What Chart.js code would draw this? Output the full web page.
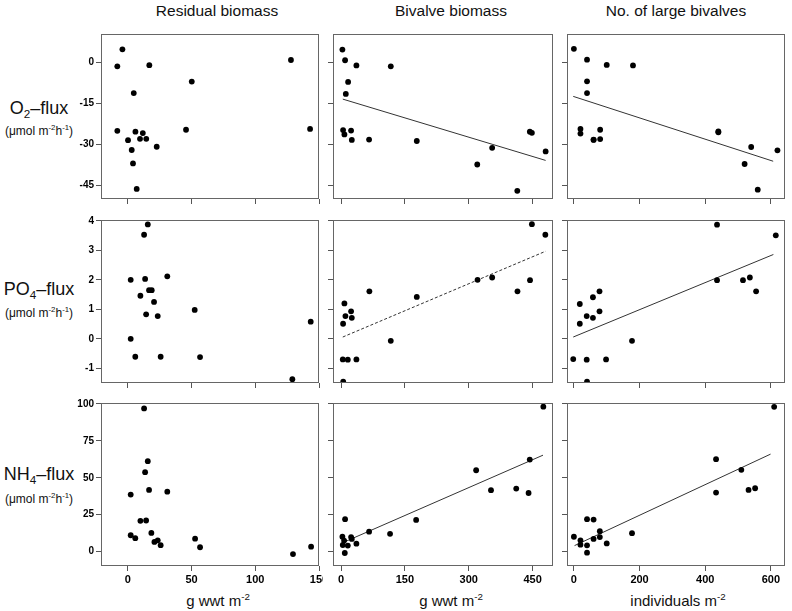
<!DOCTYPE html>
<html>
<head>
<meta charset="utf-8">
<script src="https://cdn.jsdelivr.net/npm/chart.js@4"></script>
<style>
    body { margin: 0; background: #fff; }
    #wrap { position: relative; width: 792px; height: 611px; font-family: "Liberation Sans", Arial, sans-serif; color: #111; }
    canvas { position: absolute; }
    .txt { position: absolute; white-space: nowrap; transform: translate(-50%, -50%); }
    .col { font-size: 15.5px; top: 11px; }
    .xt { font-size: 15px; top: 600px; }
    .row { font-size: 18px; }
    .unit { font-size: 12px; }
    sub, sup { font-size: 65%; }
</style>
</head>
<body>
<div id="wrap">
    <div class="txt col" style="left:217px">Residual biomass</div>
    <div class="txt col" style="left:451px">Bivalve biomass</div>
    <div class="txt col" style="left:676px">No. of large bivalves</div>

    <div class="txt row" style="left:39px; top:109px">O<sub>2</sub>–flux</div>
    <div class="txt unit" style="left:39px; top:130px">(μmol m<sup>-2</sup>h<sup>-1</sup>)</div>
    <div class="txt row" style="left:39px; top:290px">PO<sub>4</sub>–flux</div>
    <div class="txt unit" style="left:39px; top:312px">(μmol m<sup>-2</sup>h<sup>-1</sup>)</div>
    <div class="txt row" style="left:39px; top:475px">NH<sub>4</sub>–flux</div>
    <div class="txt unit" style="left:39px; top:498px">(μmol m<sup>-2</sup>h<sup>-1</sup>)</div>

    <div class="txt xt" style="left:218px">g wwt m<sup>-2</sup></div>
    <div class="txt xt" style="left:451px">g wwt m<sup>-2</sup></div>
    <div class="txt xt" style="left:678px">individuals m<sup>-2</sup></div>
</div>
<script>
// tick labels
const o2Ticks = [0, -15, -30, -45];
const po4Ticks = [-1, 0, 1, 2, 3, 4];
const nh4Ticks = [0, 25, 50, 75, 100];
const resTicks = [0, 50, 100, 150];
const bivTicks = [0, 150, 300, 450];
const numTicks = [0, 200, 400, 600];

// O2 flux
const o2ResX = [-4.2, -8.2, 16.9, 50.2, 4.7, -8.2, 6.0, 11.8, 45.7, 0.2, 9.6, 14.5, 22.7, 3.1, 4.1, 7.0, 128, 143];
const o2ResY = [4.7, -1.5, -1.1, -7.1, -11.3, -25.1, -25.4, -25.9, -24.7, -28.5, -28.0, -28.0, -30.9, -32.1, -37.0, -46.3, 0.8, -24.4];
const o2BivX = [3.1, 9.4, 36, 116.8, 16.5, 11.1, 4.7, 7.8, 23.5, 25.2, 65.8, 177.9, 443.6, 448.4, 355, 480.7, 320, 414.1];
const o2BivY = [4.6, 0.7, -1.2, -1.5, -7.2, -11.6, -24.8, -26.4, -25.0, -28.4, -28.3, -28.8, -25.4, -25.8, -31.3, -32.6, -37.4, -47.0];
const o2NumX = [0, 40, 100, 180, 40, 40, 20, 20, 80, 60, 60, 80, 440, 440, 540, 620, 520, 560];
const o2NumY = [4.9, 0.9, -1.0, -1.2, -7.0, -11.3, -24.4, -26.1, -24.7, -28.3, -28.4, -28.1, -25.3, -25.6, -31.0, -32.2, -37.2, -46.6];
const o2BivLine = [[4, -13.5], [480.7, -35.9]];
const o2NumLine = [[-2, -12.5], [607, -36.2]];

// PO4 flux
const po4ResX = [15.7, 12.8, 2.3, 13.6, 31.0, 16.7, 18.8, 9.9, 20.6, 52.5, 14.4, 23.5, 2.3, 5.9, 25.8, 56.7, 143.5, 129.1];
const po4ResY = [3.88, 3.53, 2.0, 2.03, 2.12, 1.65, 1.65, 1.46, 1.25, 0.98, 0.83, 0.77, 0, -0.61, -0.61, -0.62, 0.58, -1.37];
const po4BivX = [448.4, 480, 320.7, 355, 444, 414.5, 66.5, 177.9, 7.8, 23.5, 10.2, 25.2, 4.7, 116.8, 4.0, 15.8, 36.0, 5];
const po4BivY = [3.89, 3.53, 2.0, 2.08, 1.99, 1.61, 1.61, 1.42, 1.2, 0.93, 0.77, 0.71, 0.51, -0.07, -0.7, -0.71, -0.7, -1.45];
const po4NumX = [436, 615, 436, 515, 536, 555, 78, 58, 18, 78, 39, 58, 18, 177, -2, 39, 98, 40];
const po4NumY = [3.87, 3.51, 1.99, 1.99, 2.08, 1.61, 1.61, 1.41, 1.18, 0.93, 0.77, 0.71, 0.51, -0.07, -0.69, -0.71, -0.70, -1.45];
const po4BivLine = [[4, 0.06], [480.7, 2.97]];
const po4NumLine = [[-2, 0.06], [607.6, 2.86]];

// NH4 flux
const nh4ResX = [12.8, 15.7, 13.6, 2.3, 16.7, 31.0, 9.9, 14.4, 2.3, 5.9, 18.5, 20.9, 23.5, 25.8, 52.8, 56.7, 129.6, 143.8];
const nh4ResY = [96.9, 61.2, 53.8, 38.6, 41.8, 40.6, 20.9, 21.1, 11.1, 9.1, 12.7, 6.6, 7.7, 4.4, 8.8, 3.0, -1.6, 3.4];
const nh4BivX = [475.3, 443.4, 317.4, 352.3, 411.6, 440.6, 9.4, 176.4, 65.8, 115.1, 3.1, 23.5, 25.2, 7.1, 4.0, 15.8, 36.0, 8.7];
const nh4BivY = [98.1, 62.3, 55.1, 41.6, 42.7, 39.7, 22.0, 21.5, 13.5, 12.1, 10.1, 9.9, 8.6, 7.5, 4.5, 4.1, 5.4, -0.9];
const nh4NumX = [610, 433, 510, 433, 532, 552, 40, 60, 177, 79, 0, 79, 60, 20, 20, 40, 100, 40];
const nh4NumY = [98.0, 62.6, 55.4, 40.0, 41.8, 42.9, 22.0, 21.7, 12.5, 13.8, 10.1, 9.9, 8.6, 7.7, 4.7, 4.3, 5.6, -0.7];
const nh4BivLine = [[4, 6.1], [474.5, 65.3]];
const nh4NumLine = [[2, 4.1], [599, 66]];

// panel geometry (plot area in page pixels)
const colLeft = [101, 333, 567];
const colWidth = [218, 220, 218];
const rowTop = [34, 220, 403];
const rowHeight = [165, 163, 163];
const xRanges = [[-21, 150], [-19, 498], [-21, 643]];
const yRanges = [[-50, 10.3], [-1.5, 4.03], [-9.7, 100.6]];

const AXIS_W = 40, AXIS_H = 30, PAD = 4;

const framePlugin = {
    id: 'frame',
    afterDraw(chart) {
        const a = chart.chartArea;
        const ctx = chart.ctx;
        ctx.save();
        ctx.strokeStyle = '#666';
        ctx.lineWidth = 1;
        ctx.strokeRect(Math.round(a.left) + 0.5, Math.round(a.top) + 0.5,
            Math.round(a.right - a.left) - 1, Math.round(a.bottom - a.top) - 1);
        ctx.restore();
    }
};

// fixed axis size and no extra label padding, so every plot area sits where the reference has it
function fixSize(s, isX) {
    if (isX) s.height = AXIS_H; else s.width = AXIS_W;
    s.paddingLeft = 0;
    s.paddingRight = 0;
    s.paddingTop = 0;
    s.paddingBottom = 0;
}

function makePanel(row, col, xs, ys, line, xTicks, yTicks, dashed) {
    const wrap = document.getElementById('wrap');
    const canvas = document.createElement('canvas');
    const w = colWidth[col] + AXIS_W + PAD;
    const h = rowHeight[row] + AXIS_H + PAD;
    canvas.width = w;
    canvas.height = h;
    canvas.style.left = (colLeft[col] - AXIS_W) + 'px';
    canvas.style.top = (rowTop[row] - PAD) + 'px';
    wrap.appendChild(canvas);

    const datasets = [{
        type: 'scatter',
        data: xs.map((x, i) => ({ x: x, y: ys[i] })),
        pointRadius: 2.9,
        pointBackgroundColor: '#000',
        pointBorderWidth: 0
    }];
    if (line) {
        datasets.push({
            type: 'line',
            data: line.map(p => ({ x: p[0], y: p[1] })),
            borderColor: '#333',
            borderWidth: 1,
            borderDash: dashed ? [3, 2] : [],
            pointRadius: 0,
            fill: false
        });
    }

    const tickFont = { family: 'Arial, "Liberation Sans", sans-serif', weight: 'bold' };

    new Chart(canvas, {
        data: { datasets: datasets },
        plugins: [framePlugin],
        options: {
            responsive: false,
            animation: false,
            events: [],
            layout: { padding: { top: PAD, right: PAD, left: 0, bottom: 0 } },
            plugins: { legend: { display: false }, tooltip: { enabled: false } },
            scales: {
                x: {
                    type: 'linear',
                    min: xRanges[col][0],
                    max: xRanges[col][1],
                    afterBuildTicks: (s) => { s.ticks = xTicks.map(v => ({ value: v })); },
                    afterFit: (s) => fixSize(s, true),
                    border: { display: false },
                    grid: { drawOnChartArea: false, drawTicks: true, tickLength: 5, color: '#555' },
                    ticks: {
                        display: row === 2,
                        padding: 2,
                        color: '#000',
                        font: Object.assign({ size: 11 }, tickFont)
                    }
                },
                y: {
                    type: 'linear',
                    min: yRanges[row][0],
                    max: yRanges[row][1],
                    afterBuildTicks: (s) => { s.ticks = yTicks.map(v => ({ value: v })); },
                    afterFit: (s) => fixSize(s, false),
                    border: { display: false },
                    grid: { drawOnChartArea: false, drawTicks: true, tickLength: 5, color: '#555' },
                    ticks: {
                        display: col === 0,
                        padding: 2,
                        color: '#000',
                        font: Object.assign({ size: 10 }, tickFont)
                    }
                }
            }
        }
    });
}

makePanel(0, 0, o2ResX, o2ResY, null, resTicks, o2Ticks, false);
makePanel(0, 1, o2BivX, o2BivY, o2BivLine, bivTicks, o2Ticks, false);
makePanel(0, 2, o2NumX, o2NumY, o2NumLine, numTicks, o2Ticks, false);
makePanel(1, 0, po4ResX, po4ResY, null, resTicks, po4Ticks, false);
makePanel(1, 1, po4BivX, po4BivY, po4BivLine, bivTicks, po4Ticks, true);
makePanel(1, 2, po4NumX, po4NumY, po4NumLine, numTicks, po4Ticks, false);
makePanel(2, 0, nh4ResX, nh4ResY, null, resTicks, nh4Ticks, false);
makePanel(2, 1, nh4BivX, nh4BivY, nh4BivLine, bivTicks, nh4Ticks, false);
makePanel(2, 2, nh4NumX, nh4NumY, nh4NumLine, numTicks, nh4Ticks, false);
</script>
</body>
</html>
